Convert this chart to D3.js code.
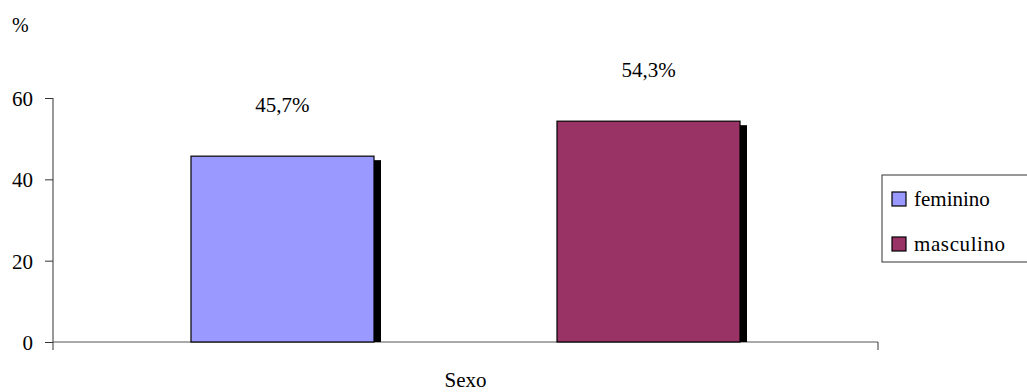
<!DOCTYPE html>
<html>
<head>
<meta charset="utf-8">
<script src="https://d3js.org/d3.v7.min.js"></script>
<style>
    body { margin: 0px; background: #fff; }
    svg text { font-family: "Liberation Serif", serif !important; font-size: 21px !important; }
    svg text.pct { font-size: 20px !important; }
</style>
</head>
<body>
<svg id="plot" width="1027" height="392"></svg>
<script>
// Data
var categories = ["Sexo"];
var seriesNames = ["feminino", "masculino"];
var seriesValues = [45.7, 54.3];
var seriesLabels = ["45,7%", "54,3%"];
var seriesColors = ["#9999ff", "#993366"];
var yTicks = [0, 20, 40, 60];

var svg = d3.select("#plot");

// Scales
var y = d3.scaleLinear().domain([0, 60]).range([342, 98]);
var x0 = d3.scaleBand().domain(categories).range([53, 878]);
var x1 = d3.scaleBand().domain(seriesNames)
    .range([x0(categories[0]), x0(categories[0]) + x0.bandwidth()])
    .paddingInner(0.5).paddingOuter(0.377);

// Y axis
var yAxis = svg.append("g")
    .attr("transform", "translate(53,0)")
    .call(d3.axisLeft(y).tickValues(yTicks).tickSize(8).tickPadding(12));
yAxis.select(".domain").attr("d", "M0," + y(60) + "V" + (y(0) + 8)).attr("stroke", "#333");
yAxis.selectAll("line").attr("stroke", "#333");
yAxis.selectAll("text").attr("dy", "0.35em");

// Category axis with end tick
svg.append("line")
    .attr("x1", 53).attr("x2", 878)
    .attr("y1", y(0)).attr("y2", y(0))
    .attr("stroke", "#555");
svg.append("line")
    .attr("x1", 878).attr("x2", 878)
    .attr("y1", y(0)).attr("y2", y(0) + 8)
    .attr("stroke", "#333");

// Shadows
svg.selectAll(".shadow")
    .data(seriesValues)
    .enter().append("rect")
    .attr("class", "shadow")
    .attr("x", function(d, i) { return x1(seriesNames[i]) + 7; })
    .attr("y", function(d) { return y(d) + 4; })
    .attr("width", x1.bandwidth())
    .attr("height", function(d) { return y(0) - y(d) - 4; })
    .attr("fill", "#000");

// Bars
svg.selectAll(".bar")
    .data(seriesValues)
    .enter().append("rect")
    .attr("class", "bar")
    .attr("x", function(d, i) { return x1(seriesNames[i]); })
    .attr("y", function(d) { return y(d); })
    .attr("width", x1.bandwidth())
    .attr("height", function(d) { return y(0) - y(d); })
    .attr("fill", function(d, i) { return seriesColors[i]; })
    .attr("stroke", "#000")
    .attr("stroke-width", 1.2);

// Value labels
svg.selectAll(".vlabel")
    .data(seriesValues)
    .enter().append("text")
    .attr("class", "vlabel")
    .attr("x", function(d, i) { return x1(seriesNames[i]) + x1.bandwidth() / 2; })
    .attr("y", function(d) { return y(d) - 52; })
    .attr("dy", "0.35em")
    .attr("text-anchor", "middle")
    .text(function(d, i) { return seriesLabels[i]; });

// Axis titles
svg.append("text")
    .attr("class", "pct")
    .attr("x", 12).attr("y", 25).attr("dy", "0.35em")
    .text("%");
svg.append("text")
    .attr("x", (53 + 878) / 2).attr("y", 380).attr("dy", "0.35em")
    .attr("text-anchor", "middle")
    .text(categories[0]);

// Legend
var legend = svg.append("g");
legend.append("rect")
    .attr("x", 882).attr("y", 175)
    .attr("width", 160).attr("height", 87)
    .attr("fill", "#fff").attr("stroke", "#333");
var items = legend.selectAll(".item")
    .data(seriesNames)
    .enter().append("g")
    .attr("transform", function(d, i) { return "translate(892," + (192 + i * 45) + ")"; });
items.append("rect")
    .attr("width", 14).attr("height", 14)
    .attr("fill", function(d, i) { return seriesColors[i]; })
    .attr("stroke", "#000").attr("stroke-width", 1.2);
items.append("text")
    .attr("x", 22).attr("y", 7).attr("dy", "0.35em")
    .attr("letter-spacing", function(d, i) { return i ? 0.6 : 0; })
    .text(function(d) { return d; });
</script>
</body>
</html>
